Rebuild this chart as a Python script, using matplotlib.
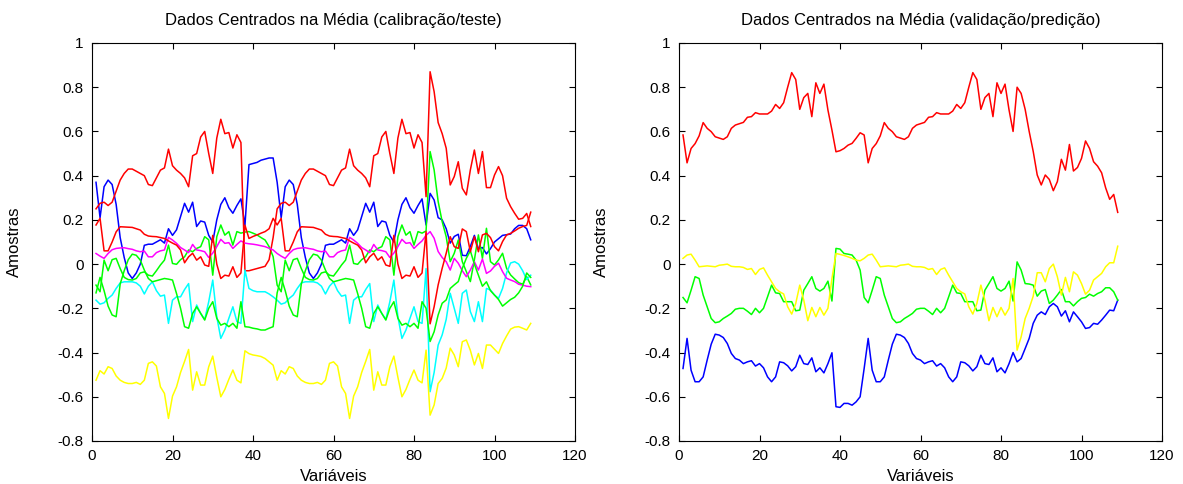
import numpy as np
import matplotlib
matplotlib.use('Agg')
import matplotlib.pyplot as plt

plt.rcParams['font.family'] = ['Liberation Sans', 'DejaVu Sans']
plt.rcParams['axes.unicode_minus'] = False

var = np.arange(1, 110)
yticks = [-0.8, -0.6, -0.4, -0.2, 0, 0.2, 0.4, 0.6, 0.8, 1]
ytick_labels = ['-0.8', '-0.6', '-0.4', '-0.2', '0', '0.2', '0.4', '0.6', '0.8', '1']

# each spectrum = block 1-37, block 38-45, block 1-37 again (46-82), block 83-109

# --- calibracao/teste ---
blue_a = [0.37, 0.21, 0.35, 0.38, 0.36, 0.27, 0.12, 0.03, -0.04, -0.065, -0.04, 0.0, 0.085,
          0.09, 0.09, 0.10, 0.11, 0.095, 0.16, 0.13, 0.155, 0.215, 0.275, 0.235, 0.28, 0.17,
          0.195, 0.19, 0.13, 0.10, 0.20, 0.27, 0.30, 0.255, 0.23, 0.265, 0.295]
blue_b = [0.175, 0.45, 0.455, 0.46, 0.47, 0.475, 0.48, 0.48]
blue_c = [0.177, 0.32, 0.29, 0.21, 0.20, 0.16, 0.095, 0.125, 0.135, 0.04, 0.038, 0.08, 0.13,
          0.07, 0.075, 0.046, 0.07, 0.10, 0.115, 0.13, 0.133, 0.136, 0.16, 0.175, 0.175, 0.16, 0.11]

red1_a = [0.25, 0.275, 0.28, 0.265, 0.28, 0.33, 0.38, 0.41, 0.43, 0.43, 0.42, 0.41, 0.40, 0.36,
          0.355, 0.39, 0.425, 0.435, 0.52, 0.445, 0.425, 0.41, 0.39, 0.35, 0.49, 0.50, 0.575,
          0.60, 0.50, 0.41, 0.57, 0.655, 0.59, 0.595, 0.525, 0.585, 0.55]
red1_b = [-0.03, -0.03, -0.025, -0.02, -0.015, -0.01, 0.02, 0.12]
red1_c = [0.305, 0.87, 0.78, 0.64, 0.59, 0.524, 0.358, 0.396, 0.463, 0.343, 0.313, 0.426, 0.516,
          0.41, 0.509, 0.346, 0.346, 0.403, 0.441, 0.40, 0.298, 0.26, 0.23, 0.203, 0.207, 0.229, 0.17]

red2_a = [0.177, 0.207, 0.06, 0.06, 0.10, 0.146, 0.169, 0.168, 0.167, 0.166, 0.16, 0.154, 0.135,
          0.127, 0.125, 0.124, 0.12, 0.116, 0.105, 0.095, 0.086, 0.064, 0.006, 0.033, 0.049,
          0.018, 0.033, -0.004, -0.01, 0.13, 0.0, -0.065, -0.05, -0.054, -0.012, -0.06, -0.04]
red2_b = [0.176, 0.116, 0.125, 0.132, 0.14, 0.147, 0.16, 0.207]
red2_c = [0.147, -0.27, -0.193, -0.094, -0.019, 0.049, 0.124, 0.079, 0.071, 0.159, 0.147, 0.056,
          0.124, 0.056, 0.132, 0.139, 0.12, 0.079, 0.06, 0.102, 0.132, 0.139, 0.15, 0.162, 0.17,
          0.175, 0.235]

mag_a = [0.048, 0.036, 0.026, 0.048, 0.065, 0.071, 0.073, 0.074, 0.07, 0.067, 0.06, 0.056, 0.059,
         0.033, 0.033, 0.052, 0.06, 0.064, 0.121, 0.109, 0.094, 0.075, 0.064, 0.052, 0.089, 0.064,
         0.061, 0.056, 0.03, 0.05, 0.079, 0.112, 0.094, 0.097, 0.071, 0.089, 0.105]
mag_b = [0.095, 0.092, 0.09, 0.087, 0.083, 0.079, 0.072, 0.064]
mag_c = [0.13, 0.147, 0.117, 0.057, 0.03, 0.011, -0.027, 0.026, 0.004, -0.03, -0.057, -0.027,
         0.011, -0.027, 0.023, -0.042, -0.031, -0.01, 0.004, -0.034, -0.064, -0.072, -0.079,
         -0.091, -0.095, -0.1, -0.102]

cyan_a = [-0.163, -0.181, -0.175, -0.155, -0.14, -0.11, -0.085, -0.08, -0.08, -0.08, -0.085,
          -0.10, -0.135, -0.10, -0.08, -0.12, -0.145, -0.14, -0.268, -0.163, -0.148, -0.148,
          -0.115, -0.088, -0.26, -0.185, -0.223, -0.25, -0.17, -0.072, -0.238, -0.336, -0.298,
          -0.245, -0.193, -0.26, -0.268]
cyan_b = [-0.027, -0.11, -0.12, -0.125, -0.125, -0.125, -0.135, -0.148]
cyan_c = [-0.02, -0.577, -0.49, -0.366, -0.32, -0.25, -0.132, -0.2, -0.268, -0.132, -0.117,
          -0.215, -0.26, -0.17, -0.26, -0.11, -0.117, -0.14, -0.155, -0.11, -0.04, 0.005, 0.011,
          0.0, -0.03, -0.07, -0.05]

yel_a = [-0.525, -0.482, -0.497, -0.464, -0.472, -0.506, -0.525, -0.535, -0.54, -0.54, -0.535,
         -0.544, -0.525, -0.449, -0.442, -0.461, -0.555, -0.585, -0.698, -0.597, -0.555, -0.49,
         -0.44, -0.386, -0.57, -0.487, -0.547, -0.547, -0.464, -0.416, -0.512, -0.60, -0.567,
         -0.521, -0.479, -0.525, -0.537]
yel_b = [-0.392, -0.405, -0.411, -0.414, -0.418, -0.427, -0.442, -0.457]
yel_c = [-0.389, -0.683, -0.637, -0.54, -0.517, -0.47, -0.38, -0.411, -0.464, -0.351, -0.343,
         -0.39, -0.456, -0.404, -0.472, -0.366, -0.366, -0.385, -0.404, -0.359, -0.325, -0.294,
         -0.285, -0.283, -0.29, -0.298, -0.268]

green1_a = [-0.095, -0.125, 0.018, -0.03, 0.02, 0.026, -0.02, -0.06, -0.07, -0.072, -0.065,
            -0.04, -0.035, -0.05, -0.054, -0.03, -0.004, 0.018, 0.086, 0.003, -0.001, 0.02, 0.033,
            0.064, 0.056, 0.071, 0.079, 0.124, 0.11, -0.05, 0.124, 0.177, 0.131, 0.147, 0.086,
            0.147, 0.14]
green1_b = [0.145, 0.147, 0.14, 0.132, 0.12, 0.109, 0.079, 0.034]
green1_c = [0.15, 0.509, 0.426, 0.283, 0.192, 0.124, 0.011, 0.049, 0.109, 0.011, -0.034, -0.079,
            0.019, 0.132, 0.026, 0.162, 0.011, -0.004, 0.019, 0.049, -0.019, -0.049, -0.067,
            -0.084, -0.091, -0.057, -0.094]

green2_a = [-0.13, -0.06, -0.12, -0.19, -0.23, -0.238, -0.09, -0.03, 0.02, 0.045, 0.04, 0.018,
            -0.027, -0.065, -0.08, -0.075, -0.07, -0.065, -0.068, -0.072, -0.133, -0.2, -0.283,
            -0.29, -0.223, -0.193, -0.223, -0.253, -0.2, -0.17, -0.245, -0.276, -0.268, -0.283,
            -0.268, -0.29, -0.17]
green2_b = [-0.283, -0.285, -0.29, -0.293, -0.298, -0.298, -0.29, -0.283]
green2_c = [-0.2, -0.35, -0.306, -0.23, -0.177, -0.162, -0.11, -0.094, -0.079, -0.019, 0.026,
            0.06, 0.0, -0.05, -0.1, -0.08, -0.12, -0.14, -0.16, -0.19, -0.175, -0.16, -0.15,
            -0.13, -0.1, -0.04, -0.06]

# --- validacao/predicao ---
vred_a = [0.584, 0.458, 0.523, 0.545, 0.58, 0.64, 0.614, 0.599, 0.576, 0.57, 0.564, 0.576,
          0.614, 0.629, 0.635, 0.641, 0.664, 0.667, 0.685, 0.679, 0.679, 0.679, 0.692, 0.722,
          0.704, 0.73, 0.80, 0.866, 0.835, 0.70, 0.753, 0.772, 0.667, 0.82, 0.772, 0.814, 0.697]
vred_b = [0.606, 0.508, 0.513, 0.523, 0.538, 0.546, 0.569, 0.594]
vred_c = [0.60, 0.80, 0.772, 0.70, 0.60, 0.51, 0.403, 0.358, 0.403, 0.383, 0.332, 0.373, 0.474,
          0.425, 0.541, 0.421, 0.437, 0.478, 0.557, 0.523, 0.463, 0.443, 0.413, 0.345, 0.293,
          0.315, 0.234]

vyel_a = [0.026, 0.041, 0.045, 0.018, -0.012, -0.01, -0.008, -0.01, -0.012, -0.005, -0.003, 0.0,
          -0.01, -0.012, -0.012, -0.015, -0.024, -0.02, -0.047, -0.024, -0.017, -0.05, -0.08,
          -0.11, -0.125, -0.135, -0.193, -0.226, -0.178, -0.095, -0.163, -0.256, -0.196, -0.238,
          -0.196, -0.231, -0.2]
vyel_b = [-0.065, 0.048, 0.044, 0.039, 0.033, 0.026, 0.018, 0.015]
vyel_c = [-0.065, -0.389, -0.329, -0.246, -0.2, -0.145, -0.039, -0.039, -0.08, -0.02, 0.0,
          -0.057, -0.14, -0.06, -0.125, -0.035, -0.05, -0.088, -0.136, -0.118, -0.072, -0.057,
          -0.042, -0.012, 0.006, 0.006, 0.081]

vgrn_a = [-0.151, -0.175, -0.118, -0.057, -0.065, -0.14, -0.193, -0.246, -0.265, -0.261, -0.246,
          -0.235, -0.223, -0.204, -0.2, -0.2, -0.213, -0.228, -0.2, -0.22, -0.2, -0.148, -0.095,
          -0.13, -0.133, -0.17, -0.17, -0.17, -0.211, -0.208, -0.118, -0.088, -0.057, -0.11,
          -0.122, -0.11, -0.077]
vgrn_b = [-0.167, 0.071, 0.068, 0.048, 0.045, 0.041, 0.018, -0.027]
vgrn_c = [-0.167, 0.01, -0.027, -0.088, -0.09, -0.095, -0.145, -0.122, -0.115, -0.178, -0.163,
          -0.14, -0.115, -0.17, -0.17, -0.189, -0.17, -0.155, -0.151, -0.136, -0.145, -0.133,
          -0.125, -0.107, -0.107, -0.125, -0.163]

vblu_a = [-0.472, -0.336, -0.48, -0.532, -0.532, -0.51, -0.434, -0.362, -0.317, -0.321, -0.332,
          -0.359, -0.404, -0.427, -0.434, -0.45, -0.442, -0.437, -0.461, -0.45, -0.469, -0.51,
          -0.532, -0.51, -0.442, -0.446, -0.46, -0.483, -0.464, -0.412, -0.45, -0.454, -0.424,
          -0.487, -0.469, -0.492, -0.45]
vblu_b = [-0.401, -0.645, -0.648, -0.63, -0.63, -0.638, -0.623, -0.6]
vblu_c = [-0.4, -0.442, -0.427, -0.382, -0.336, -0.268, -0.231, -0.216, -0.228, -0.193, -0.178,
          -0.193, -0.235, -0.211, -0.261, -0.216, -0.238, -0.261, -0.291, -0.287, -0.268,
          -0.272, -0.253, -0.231, -0.208, -0.211, -0.163]


def spec(a, b, c):
    return np.array(a + b + a + c)


cal = [(spec(blue_a, blue_b, blue_c), 'b'),
       (spec(green1_a, green1_b, green1_c), 'g'),
       (spec(red1_a, red1_b, red1_c), 'r'),
       (spec(cyan_a, cyan_b, cyan_c), 'c'),
       (spec(mag_a, mag_b, mag_c), 'm'),
       (spec(yel_a, yel_b, yel_c), 'y'),
       (spec(green2_a, green2_b, green2_c), 'g'),
       (spec(red2_a, red2_b, red2_c), 'r')]

val = [(spec(vblu_a, vblu_b, vblu_c), 'b'),
       (spec(vgrn_a, vgrn_b, vgrn_c), 'g'),
       (spec(vred_a, vred_b, vred_c), 'r'),
       (spec(vyel_a, vyel_b, vyel_c), 'y')]

cores = {'b': '#0000ff', 'g': '#00ff00', 'r': '#ff0000', 'c': '#00ffff',
         'm': '#ff00ff', 'y': '#ffff00'}

fig = plt.figure(figsize=(11.83, 4.84), dpi=100)
ax1 = fig.add_axes([92 / 1183, 43 / 484, 483 / 1183, 398 / 484])
ax2 = fig.add_axes([679 / 1183, 43 / 484, 483 / 1183, 398 / 484])

for ax, dados, titulo in [(ax1, cal, 'Dados Centrados na Média (calibração/teste)'),
                          (ax2, val, 'Dados Centrados na Média (validação/predição)')]:
    for y, c in dados:
        ax.plot(var, y, color=cores[c], lw=1.1)
    ax.set_xlim(0, 120)
    ax.set_ylim(-0.8, 1)
    ax.set_xticks(np.arange(0, 121, 20))
    ax.set_yticks(yticks)
    ax.set_yticklabels(ytick_labels)
    ax.tick_params(direction='in', top=True, right=True, length=4, width=0.8,
                   labelsize=11, pad=6)
    for s in ax.spines.values():
        s.set_linewidth(0.8)
    ax.set_title(titulo, fontsize=12, pad=13)
    ax.set_xlabel('Variáveis', fontsize=12, labelpad=4)
    ax.set_ylabel('Amostras', fontsize=12)
    ax.yaxis.set_label_coords(-0.145, 0.5)

fig.savefig('out.png', dpi=100)
